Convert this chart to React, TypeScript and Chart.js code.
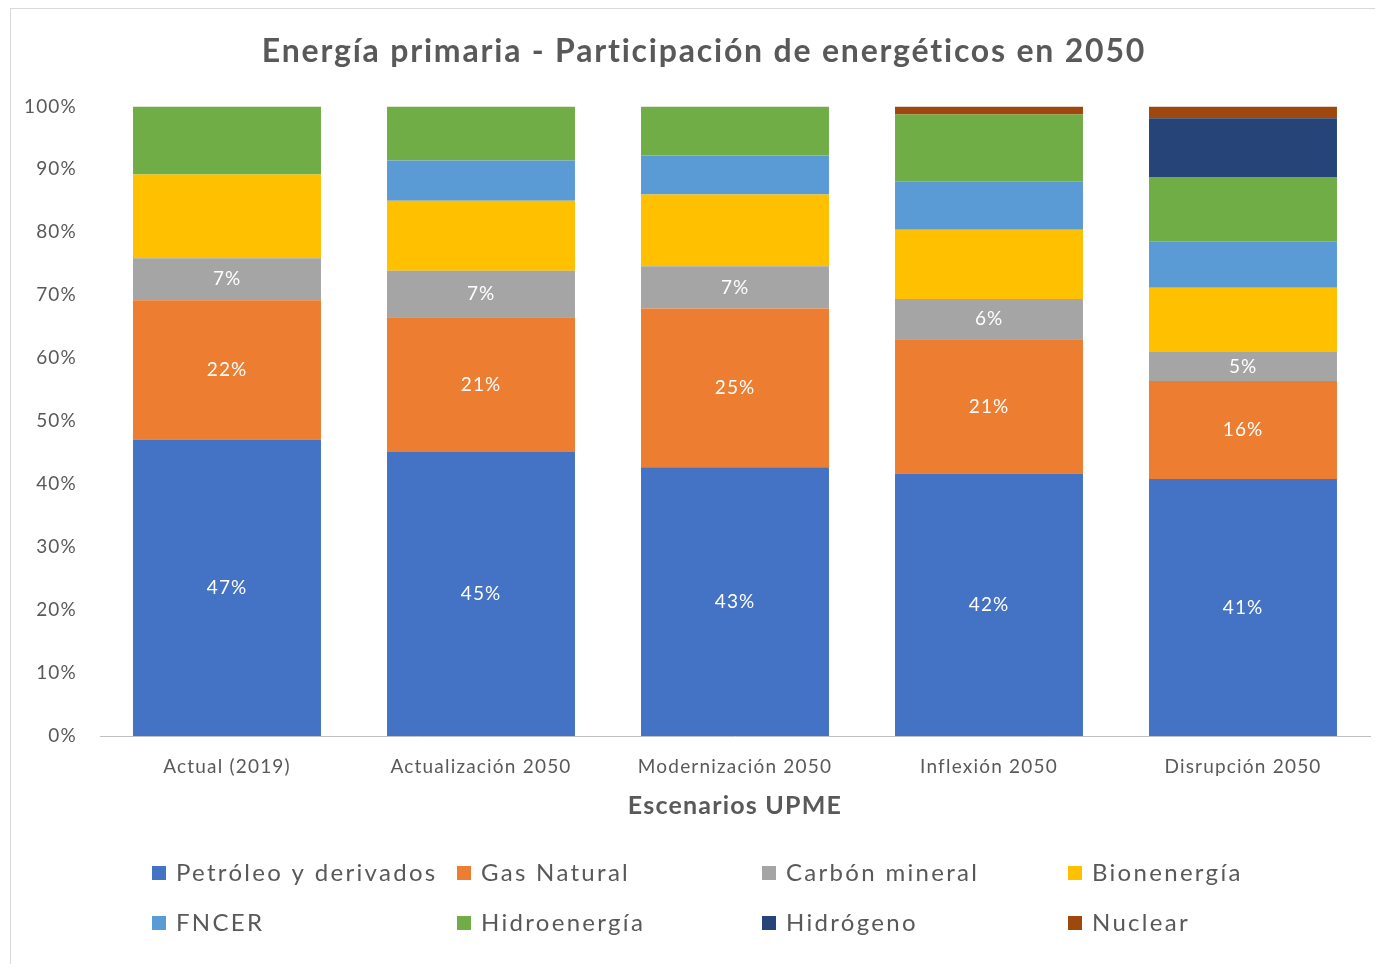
import React, { useEffect, useRef } from 'react';
import { Chart, registerables } from 'chart.js';

Chart.register(...registerables);

// ---- Data ----
const categories = [
  'Actual (2019)',
  'Actualización 2050',
  'Modernización 2050',
  'Inflexión 2050',
  'Disrupción 2050',
];

const petroleo = [47.1, 45.1, 42.7, 41.7, 40.8];
const gasNatural = [22.1, 21.4, 25.2, 21.3, 15.6];
const carbon = [6.7, 7.4, 6.7, 6.4, 4.6];
const bioenergia = [13.3, 11.1, 11.4, 11.0, 10.2];
const fncer = [0, 6.4, 6.2, 7.7, 7.4];
const hidroenergia = [10.8, 8.6, 7.8, 10.6, 10.2];
const hidrogeno = [0, 0, 0, 0, 9.3];
const nuclear = [0, 0, 0, 1.3, 1.9];

const seriesNames = [
  'Petróleo y derivados',
  'Gas Natural',
  'Carbón mineral',
  'Bionenergía',
  'FNCER',
  'Hidroenergía',
  'Hidrógeno',
  'Nuclear',
];
const seriesValues = [petroleo, gasNatural, carbon, bioenergia, fncer, hidroenergia, hidrogeno, nuclear];
const seriesColors = ['#4472C4', '#ED7D31', '#A5A5A5', '#FFC000', '#5B9BD5', '#70AD47', '#264478', '#9E480E'];
const labeledSeries = [0, 1, 2];

const yMin = 0;
const yMax = 100;
const yStep = 10;

const titleText = 'Energía primaria - Participación de energéticos en 2050';
const xTitleText = 'Escenarios UPME';

// ---- Styles ----
const TEXT = '#595959';
const FONT = 'Lato, "Open Sans", sans-serif';

const spacingPlugin = {
  id: 'spacing',
  afterLayout(chart: any) {
    const tb = chart.titleBlock;
    if (tb) {
      tb.left = 27;
      if (!tb._lsWrapped) {
        const orig = tb.draw.bind(tb);
        tb.draw = (...args: any[]) => {
          const ctx = chart.ctx;
          ctx.save();
          (ctx as any).letterSpacing = '1.8px';
          orig(...args);
          ctx.restore();
        };
        tb._lsWrapped = true;
      }
    }
  },
  beforeDraw(chart: any) {
    (chart.ctx as any).letterSpacing = '1.2px';
  },
};

const segmentLabels = {
  id: 'segmentLabels',
  afterDatasetsDraw(chart: any) {
    const ctx = chart.ctx;
    ctx.save();
    ctx.fillStyle = '#ffffff';
    ctx.font = `19px ${FONT}`;
    (ctx as any).letterSpacing = '1px';
    ctx.textAlign = 'center';
    ctx.textBaseline = 'middle';
    labeledSeries.forEach((di) => {
      const meta = chart.getDatasetMeta(di);
      meta.data.forEach((el: any, i: number) => {
        const v = chart.data.datasets[di].data[i];
        if (!v) return;
        const { x, y, base } = el.getProps(['x', 'y', 'base'], true);
        ctx.fillText(Math.round(v) + '%', x, (y + base) / 2);
      });
    });
    ctx.restore();
  },
};

const gridLegend = {
  id: 'gridLegend',
  afterDraw(chart: any) {
    const ctx = chart.ctx;
    const colX = [141, 446, 751, 1057];
    const rowY = [864, 914];
    ctx.save();
    ctx.font = `24px ${FONT}`;
    (ctx as any).letterSpacing = '2.3px';
    ctx.textBaseline = 'middle';
    ctx.textAlign = 'left';
    chart.data.datasets.forEach((ds: any, i: number) => {
      const col = i % 4;
      const row = Math.floor(i / 4);
      const x = colX[col];
      const y = rowY[row];
      ctx.fillStyle = ds.backgroundColor;
      ctx.fillRect(x, y - 7, 14, 14);
      ctx.fillStyle = TEXT;
      ctx.fillText(ds.label, x + 24, y);
    });
    ctx.restore();
  },
};

export default function App() {
  const canvasRef = useRef<HTMLCanvasElement | null>(null);

  useEffect(() => {
    document.body.style.overflow = 'hidden';
    const canvas = canvasRef.current;
    if (!canvas) return;
    const chart = new Chart(canvas, {
      type: 'bar',
      data: {
        labels: categories,
        datasets: seriesNames.map((name, i) => ({
          label: name,
          data: seriesValues[i],
          backgroundColor: seriesColors[i],
          borderWidth: 0,
          barPercentage: 0.74,
          categoryPercentage: 1.0,
        })),
      },
      options: {
        responsive: false,
        animation: false,
        layout: { padding: { left: 0, right: 13, top: 0, bottom: 143 } },
        plugins: {
          legend: { display: false },
          tooltip: { enabled: false },
          title: {
            display: true,
            text: titleText,
            color: TEXT,
            font: { family: FONT, size: 32, weight: 'bold' },
            padding: { top: 23, bottom: 36 },
          },
        },
        scales: {
          x: {
            stacked: true,
            grid: { display: false, drawTicks: false },
            border: { display: true, color: '#bfbfbf', dash: [2, 2], width: 1 },
            ticks: { color: TEXT, font: { family: FONT, size: 19 }, padding: 19 },
            title: {
              display: true,
              text: xTitleText,
              color: TEXT,
              font: { family: FONT, size: 25, weight: 'bold' },
              padding: { top: 13, bottom: 0 },
            },
            afterFit: (s: any) => {
              s.height = 85;
            },
          },
          y: {
            stacked: true,
            min: yMin,
            max: yMax,
            grid: { display: false, drawTicks: false },
            border: { display: false },
            ticks: {
              stepSize: yStep,
              color: TEXT,
              font: { family: FONT, size: 19 },
              padding: 23,
              callback: (v: any) => v + '%',
            },
            afterFit: (s: any) => {
              s.width = 89;
            },
          },
        },
      } as any,
      plugins: [spacingPlugin, segmentLabels, gridLegend],
    });
    return () => chart.destroy();
  }, []);

  return (
    <div
      style={{
        marginLeft: 2,
        borderLeft: '1px solid #d9d9d9',
        borderTop: '1px solid #d9d9d9',
        width: 1372,
        height: 955,
      }}
    >
      <canvas ref={canvasRef} width={1372} height={955} style={{ display: 'block' }} />
    </div>
  );
}
